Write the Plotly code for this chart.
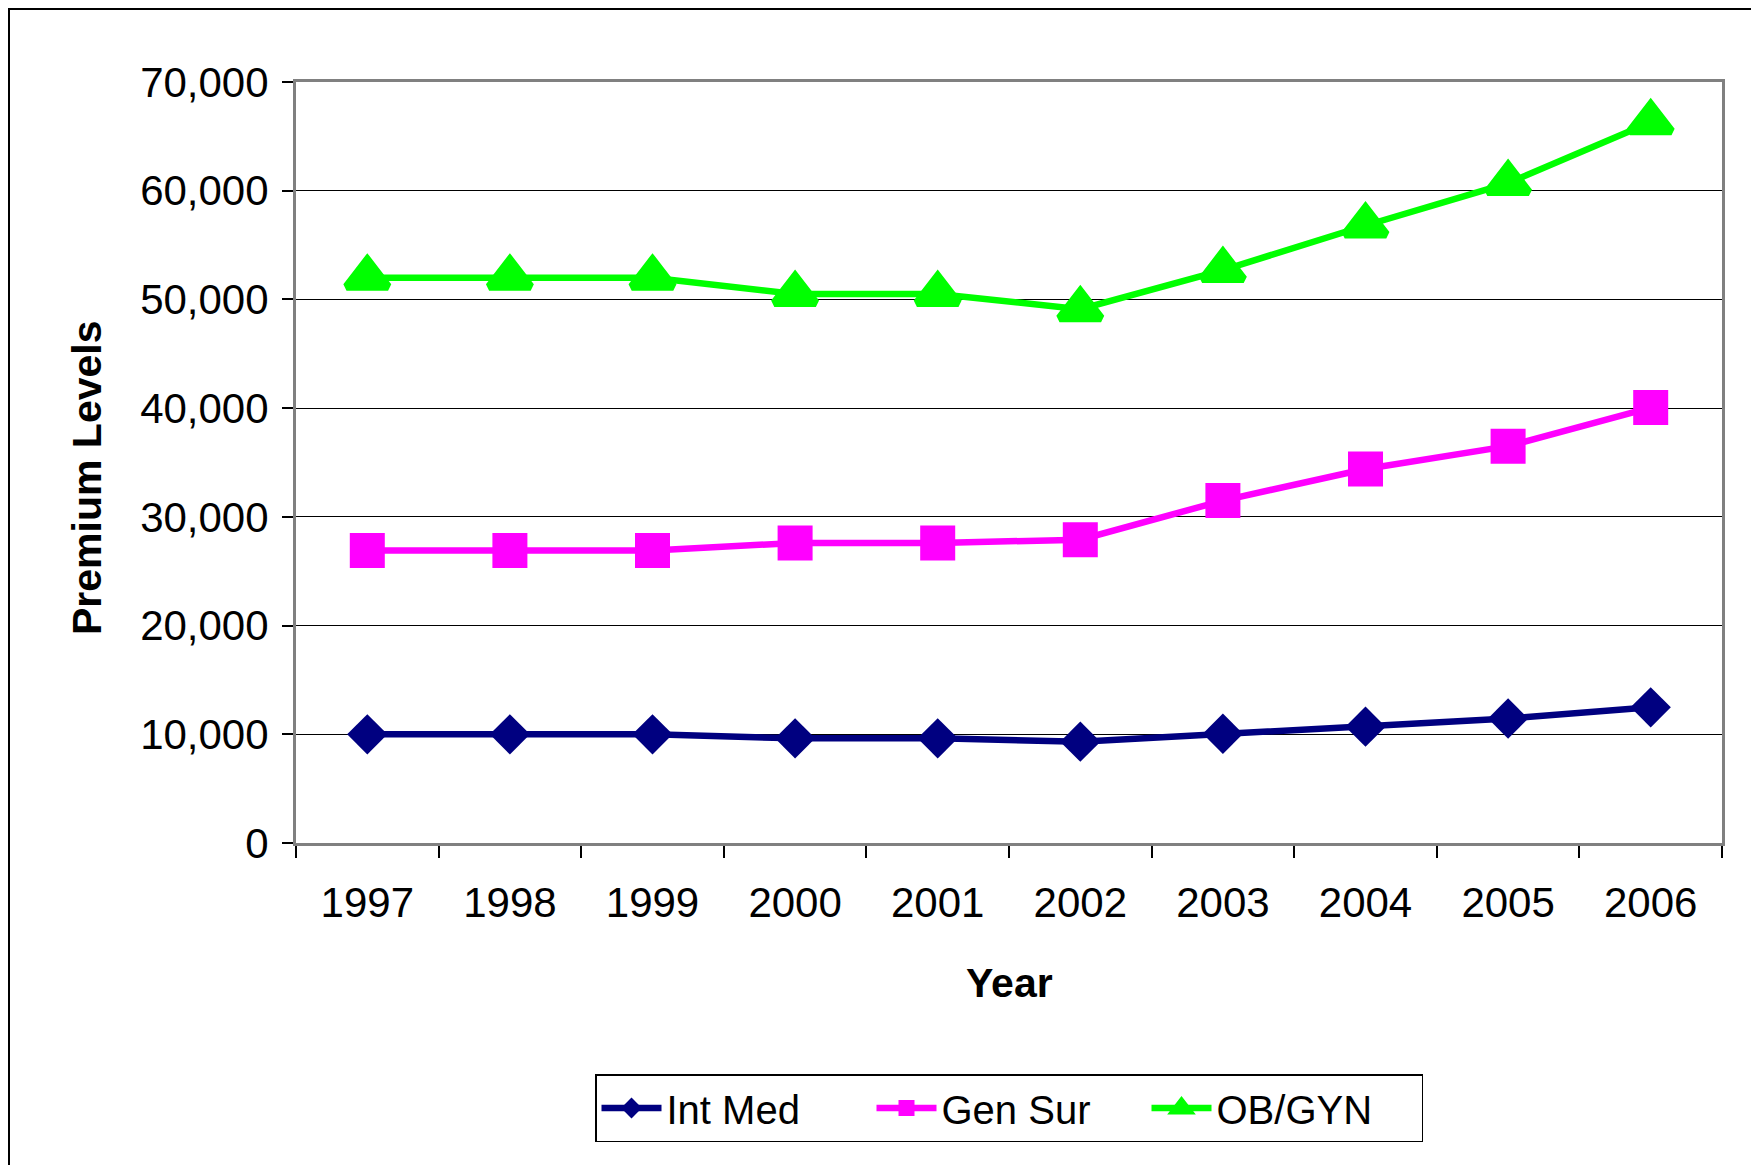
import plotly.graph_objects as go

years = ["1997", "1998", "1999", "2000", "2001", "2002", "2003", "2004", "2005", "2006"]
int_med = [10000, 10000, 10000, 9630, 9630, 9320, 10050, 10700, 11450, 12480]
gen_sur = [26900, 26900, 26900, 27600, 27600, 27900, 31500, 34400, 36500, 40050]
ob_gyn = [52000, 52000, 52000, 50500, 50500, 49100, 52700, 56800, 60700, 66300]
y_ticks = [0, 10000, 20000, 30000, 40000, 50000, 60000, 70000]

OFF = 8  # page body margin offset
W, H = 1759 - OFF, 1165 - OFF
L, T = 296 - OFF, 82 - OFF
R = W - (1722 - OFF)
B = H - (843 - OFF)
PW, PH = W - L - R, H - T - B


def px_x(px):
    return (px - OFF - L) / PW


def px_y(py):
    return (H - B - (py - OFF)) / PH


FONT = "Liberation Sans, Arial, sans-serif"

fig = go.Figure()
fig.add_trace(go.Scatter(
    x=years, y=int_med, name="Int Med", mode="lines+markers",
    line=dict(color="#000080", width=6.5),
    marker=dict(symbol="diamond", size=31, color="#000080"),
))
fig.add_trace(go.Scatter(
    x=years, y=gen_sur, name="Gen Sur", mode="lines+markers",
    line=dict(color="#FF00FF", width=6.5),
    marker=dict(symbol="square", size=35, color="#FF00FF"),
))
fig.add_trace(go.Scatter(
    x=years, y=ob_gyn, name="OB/GYN", mode="lines+markers",
    line=dict(color="#00FF00", width=6.5),
    marker=dict(symbol="triangle-up", size=36, color="#00FF00",
                line=dict(color="#00FF00", width=8)),
))

fig.update_layout(
    width=W, height=H,
    margin=dict(l=L, r=R, t=T, b=B),
    paper_bgcolor="white", plot_bgcolor="white",
    font=dict(family=FONT, size=40, color="black"),
    showlegend=True,
    legend=dict(
        orientation="h", x=0.5, xanchor="center",
        y=px_y(1074), yanchor="top",
        bordercolor="black", borderwidth=1.5,
        font=dict(size=40), itemwidth=60, entrywidth=200,
        bgcolor="white",
    ),
    xaxis=dict(
        type="category", range=[-0.5, 9.5],
        showgrid=False, zeroline=False,
        showline=True, linecolor="#808080", linewidth=3, mirror=True,
        ticks="outside", tickson="boundaries", ticklen=12,
        tickcolor="black", tickwidth=1.5,
        ticklabelstandoff=21,
        tickfont=dict(size=42),
    ),
    yaxis=dict(
        range=[0, 70000], tickvals=y_ticks, tickformat=",d",
        showgrid=True, gridcolor="black", gridwidth=1,
        zeroline=False,
        showline=True, linecolor="#808080", linewidth=3, mirror=True,
        ticks="outside", ticklen=11, tickcolor="black", tickwidth=1.5,
        ticklabelstandoff=5,
        tickfont=dict(size=42),
    ),
    annotations=[
        dict(text="<b>Premium Levels</b>", xref="paper", yref="paper",
             x=px_x(87), y=px_y(478), textangle=-90, showarrow=False,
             font=dict(size=41), xanchor="center", yanchor="middle"),
        dict(text="<b>Year</b>", xref="paper", yref="paper",
             x=0.5, y=px_y(983), showarrow=False,
             font=dict(size=41), xanchor="center", yanchor="middle"),
    ],
    shapes=[
        dict(type="rect", xref="paper", yref="paper",
             x0=px_x(OFF + 1), x1=px_x(1756), y0=px_y(1190), y1=px_y(OFF + 1),
             line=dict(color="black", width=2), layer="below"),
    ],
)

fig.write_html("out.html", post_script="document.body.style.overflow='hidden';")
